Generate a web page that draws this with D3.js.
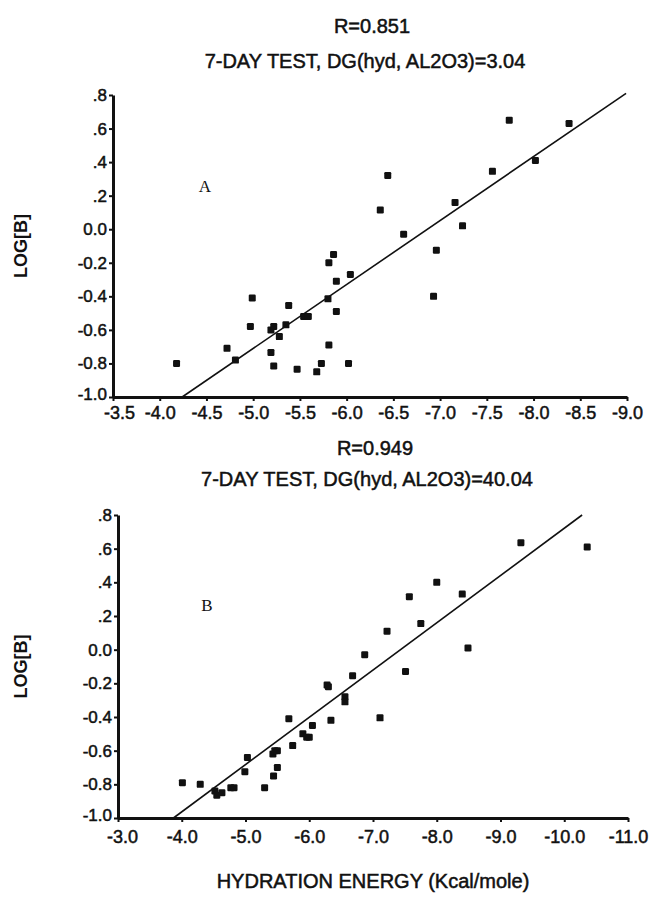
<!DOCTYPE html>
<html>
  <head>
    <meta charset="utf-8">
    <script src="https://d3js.org/d3.v7.min.js"></script>
    <style>
      body {
        margin: 0;
        background: white;
      }
      svg text {
        font-family: "Liberation Sans", Arial, sans-serif;
        fill: #111;
        stroke: #111;
        stroke-width: 0.5px;
      }
      .axis path {
        stroke: #111;
        stroke-width: 3px;
      }
      .axis line {
        stroke: #111;
        stroke-width: 2px;
      }
      svg text.panel-letter {
        font-family: "Liberation Serif", serif;
        stroke-width: 0;
      }
    </style>
  </head>
<body>
  <script type="text/javascript">
    // ---- data ----
    // panel A: 7-day test, DG(hyd, AL2O3)=3.04
    var energyA = [-4.18, -4.72, -4.81, -4.99, -4.97, -5.19, -5.22, -5.28, -5.19, -5.22,
                   -5.38, -5.35, -5.47, -5.54, -5.59, -5.68, -5.73, -5.81, -5.80, -5.81,
                   -5.86, -5.89, -5.89, -6.04, -6.02, -7.74, -8.38, -8.02, -7.56, -6.44,
                   -6.36, -7.16, -7.24, -6.61, -6.96, -6.93];
    var logBA = [-0.80, -0.71, -0.78, -0.41, -0.58, -0.60, -0.58, -0.64, -0.735, -0.815,
                 -0.455, -0.57, -0.835, -0.52, -0.52, -0.85, -0.80, -0.69, -0.415, -0.20,
                 -0.15, -0.31, -0.49, -0.27, -0.80, 0.65, 0.63, 0.41, 0.345, 0.32,
                 0.115, 0.16, 0.02, -0.03, -0.125, -0.40];
    var fitA = [[-4.24, -1.0], [-8.99, 0.81]];

    // panel B: 7-day test, DG(hyd, AL2O3)=40.04
    var energyB = [-4.01, -4.29, -4.52, -4.55, -4.63, -4.77, -4.82, -4.99, -5.03, -5.30,
                   -5.44, -5.50, -5.43, -5.46, -5.50, -5.68, -5.74, -5.90, -5.96, -6.00,
                   -6.05, -6.28, -6.30, -6.34, -6.56, -6.56, -6.68, -7.11, -9.32, -10.36,
                   -8.00, -7.57, -8.40, -7.75, -7.22, -8.49, -6.87, -7.51];
    var logBB = [-0.79, -0.80, -0.84, -0.865, -0.85, -0.82, -0.82, -0.725, -0.64, -0.82,
                 -0.75, -0.70, -0.62, -0.60, -0.60, -0.41, -0.57, -0.50, -0.52, -0.52,
                 -0.45, -0.21, -0.22, -0.42, -0.28, -0.31, -0.155, -0.405, 0.635, 0.61,
                 0.40, 0.315, 0.33, 0.155, 0.11, 0.01, -0.03, -0.13];
    var fitB = [[-3.87, -1.0], [-10.28, 0.80]];

    // ticks
    var yTicks = [-1.0, -0.8, -0.6, -0.4, -0.2, 0.0, 0.2, 0.4, 0.6, 0.8];
    var yTickLabels = ["-1.0", "-0.8", "-0.6", "-0.4", "-0.2", "0.0", ".2", ".4", ".6", ".8"];
    var xTicksA = [-3.5, -4.0, -4.5, -5.0, -5.5, -6.0, -6.5, -7.0, -7.5, -8.0, -8.5, -9.0];
    var xTicksB = [-3.0, -4.0, -5.0, -6.0, -7.0, -8.0, -9.0, -10.0, -11.0];

    var titlesA = ["R=0.851", "7-DAY TEST, DG(hyd, AL2O3)=3.04"];
    var titlesB = ["R=0.949", "7-DAY TEST, DG(hyd, AL2O3)=40.04"];

    var svg = d3.select("body")
      .append("svg")
      .attr("width", 650)
      .attr("height", 898);

    // plain hyphen minus, like the original plot
    function fmtX(d) {
      return d3.format(".1f")(d).replace("\u2212", "-");
    }

    function drawPanel(p) {
      "use strict";
      var x = d3.scaleLinear().domain(p.xDomain).range([p.left, p.right]);
      var y = d3.scaleLinear().domain([-1.0, 0.8]).range([p.bottom, p.top]);
      var g = svg.append("g");

      // titles
      g.append("text")
        .attr("x", p.t1x).attr("y", p.t1y)
        .attr("text-anchor", "middle")
        .style("font-size", "20px")
        .text(p.titles[0]);
      g.append("text")
        .attr("x", p.t2x).attr("y", p.t2y)
        .attr("text-anchor", "middle")
        .style("font-size", "20px")
        .text(p.titles[1]);

      // axes
      var yAxis = d3.axisLeft(y)
        .tickValues(yTicks)
        .tickFormat(function(d) { return yTickLabels[yTicks.indexOf(d)]; })
        .tickSize(4).tickSizeOuter(0).tickPadding(2);
      var yLabels = g.append("g")
        .attr("class", "axis")
        .attr("transform", "translate(" + p.left + ",0)")
        .call(yAxis)
        .selectAll("text")
        .style("font-size", "17px");
      // bottom label sits a touch higher so it clears the x labels
      yLabels.filter(function(d) { return d === -1.0; }).attr("y", -3);

      var xAxis = d3.axisBottom(x)
        .tickValues(p.xTicks)
        .tickFormat(fmtX)
        .tickSize(4).tickSizeOuter(0).tickPadding(p.xPad);
      var xLabels = g.append("g")
        .attr("class", "axis")
        .attr("transform", "translate(0," + p.bottom + ")")
        .call(xAxis)
        .selectAll("text")
        .style("font-size", "18px");
      xLabels.filter(function(d, i) { return i === 0; }).attr("x", p.firstDx);

      // y label
      g.append("text")
        .attr("transform", "translate(27," + ((p.top + p.bottom) / 2) + ") rotate(-90)")
        .attr("text-anchor", "middle")
        .style("font-size", "18px")
        .style("font-weight", "bold")
        .style("stroke-width", "0")
        .text("LOG[B]");

      // panel letter
      g.append("text")
        .attr("class", "panel-letter")
        .attr("x", p.letterX).attr("y", p.letterY)
        .attr("text-anchor", "middle")
        .style("font-size", "17px")
        .text(p.letter);

      // regression line
      g.append("line")
        .attr("x1", x(p.fit[0][0])).attr("y1", y(p.fit[0][1]))
        .attr("x2", x(p.fit[1][0])).attr("y2", y(p.fit[1][1]))
        .attr("stroke", "#111")
        .attr("stroke-width", 1.6);

      // points
      g.selectAll("rect.pt")
        .data(p.xs)
        .enter()
        .append("rect")
        .attr("class", "pt")
        .attr("x", function(d) { return x(d) - 3.5; })
        .attr("y", function(d, i) { return y(p.ys[i]) - 3.5; })
        .attr("width", 7)
        .attr("height", 7)
        .attr("rx", 1.2)
        .attr("fill", "#111");
    }

    drawPanel({
      xDomain: [-3.5, -9.0], xTicks: xTicksA, left: 113, right: 627, top: 95, bottom: 397,
      xs: energyA, ys: logBA, fit: fitA, titles: titlesA, xPad: 5, firstDx: 6,
      t1x: 372, t1y: 33, t2x: 365, t2y: 68, letter: "A", letterX: 205, letterY: 192
    });
    drawPanel({
      xDomain: [-3.0, -11.0], xTicks: xTicksB, left: 118, right: 628, top: 515, bottom: 818,
      xs: energyB, ys: logBB, fit: fitB, titles: titlesB, xPad: 8, firstDx: 4,
      t1x: 375, t1y: 455, t2x: 367, t2y: 486, letter: "B", letterX: 207, letterY: 611
    });

    // shared x label
    svg.append("text")
      .attr("x", 373).attr("y", 888)
      .attr("text-anchor", "middle")
      .style("font-size", "20px")
      .text("HYDRATION ENERGY (Kcal/mole)");
  </script>
</body>
</html>
